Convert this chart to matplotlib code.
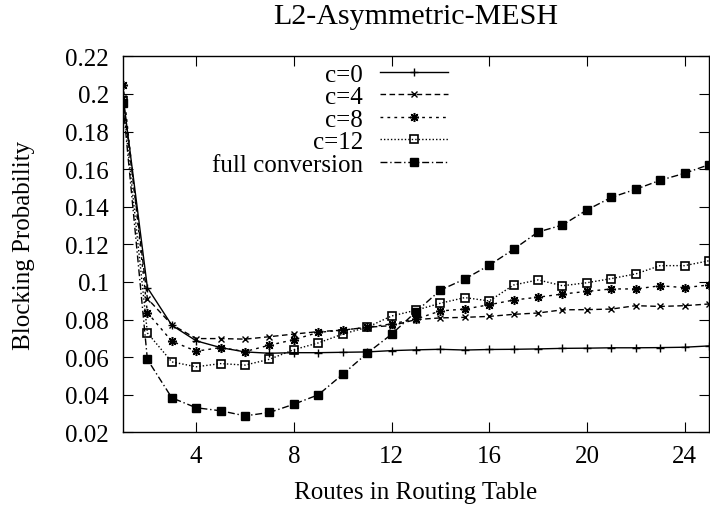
import matplotlib
matplotlib.use("Agg")
import matplotlib.pyplot as plt
from matplotlib.ticker import FixedLocator, FuncFormatter

routes = list(range(1, 26))
c0 = [0.199, 0.097, 0.077, 0.0687, 0.0651, 0.0628, 0.0621, 0.0624, 0.0624, 0.0626, 0.0628, 0.0635, 0.0639,
      0.0642, 0.0638, 0.0641, 0.0642, 0.0644, 0.0647, 0.0648, 0.065, 0.065, 0.0651, 0.0653, 0.066]
c4 = [0.198, 0.0912, 0.0773, 0.0699, 0.0699, 0.0696, 0.0709, 0.0723, 0.0736, 0.0744, 0.0759, 0.0768, 0.080,
      0.0809, 0.0812, 0.0817, 0.0828, 0.0835, 0.0852, 0.0853, 0.0856, 0.0874, 0.087, 0.0874, 0.0883]
c8 = [0.205, 0.0837, 0.0685, 0.0632, 0.0651, 0.0630, 0.0664, 0.0693, 0.0732, 0.0744, 0.0759, 0.0777, 0.0803,
      0.0846, 0.0856, 0.0879, 0.0904, 0.0919, 0.0936, 0.095, 0.0963, 0.0963, 0.098, 0.097, 0.0984]
c12 = [0.196, 0.0729, 0.0575, 0.0549, 0.0566, 0.0558, 0.0589, 0.064, 0.0676, 0.0723, 0.0759, 0.0819, 0.085,
       0.0887, 0.0917, 0.0899, 0.0984, 0.1011, 0.098, 0.0996, 0.1018, 0.1043, 0.1087, 0.1087, 0.1113]
full = [0.195, 0.0588, 0.0384, 0.0331, 0.0315, 0.0288, 0.0306, 0.035, 0.040, 0.0509, 0.0621, 0.0722, 0.0842,
        0.0957, 0.1016, 0.1089, 0.1174, 0.1266, 0.1303, 0.1383, 0.145, 0.1493, 0.1541, 0.1578, 0.1624]

labels = ["c=0", "c=4", "c=8", "c=12", "full conversion"]
xticks = [4, 8, 12, 16, 20, 24]
yticks = [0.02, 0.04, 0.06, 0.08, 0.1, 0.12, 0.14, 0.16, 0.18, 0.2, 0.22]

plt.rcParams['font.family'] = ['Liberation Serif', 'DejaVu Serif']
plt.rcParams['font.size'] = 18

fig = plt.figure(figsize=(7.1, 5.1), dpi=100)
ax = fig.add_axes([0.1732, 0.1502, 0.8254, 0.7373])

lw = 1.0
ax.plot(routes, c0, color='black', lw=lw, linestyle='-', marker='+', ms=6, mew=1.0, label=labels[0])
ax.plot(routes, c4, color='black', lw=lw, linestyle=(0, (4, 2.5)), marker='x', ms=5, mew=1.0, label=labels[1])
ax.plot(routes, c8, color='black', lw=lw, linestyle=(0, (2, 3)), marker=(8, 2, 0), ms=6.5, mew=1.1, label=labels[2])
ax.plot(routes, c12, color='black', lw=lw, linestyle=(0, (1, 1.5)), marker='s', ms=5.5, mfc='none', mew=1.2, label=labels[3])
ax.plot(routes, full, color='black', lw=lw, linestyle=(0, (5, 2, 1, 2)), marker='s', ms=5.5, mfc='black', label=labels[4])

ax.set_xlim(1, 25)
ax.set_ylim(0.02, 0.22)
ax.xaxis.set_major_locator(FixedLocator(xticks))
ax.yaxis.set_major_locator(FixedLocator(yticks))
ax.yaxis.set_major_formatter(FuncFormatter(lambda v, p: ('%g' % round(v, 4))))
ax.tick_params(direction='in', length=7, width=0.8, top=True, right=True, pad=10)
ax.tick_params(axis='x', pad=9)
for s in ax.spines.values():
    s.set_linewidth(1.0)

ax.set_title("L2-Asymmetric-MESH", pad=24)
ax.set_xlabel("Routes in Routing Table", labelpad=10)
ax.set_ylabel("Blocking Probability", labelpad=22)

leg = ax.legend(loc='upper right', bbox_to_anchor=(0.555, 0.982), markerfirst=False, frameon=False,
                handlelength=2.72, handletextpad=0.68, labelspacing=0.0, numpoints=1,
                borderaxespad=0.0, borderpad=0.0)

fig.savefig("out.png", dpi=100)
